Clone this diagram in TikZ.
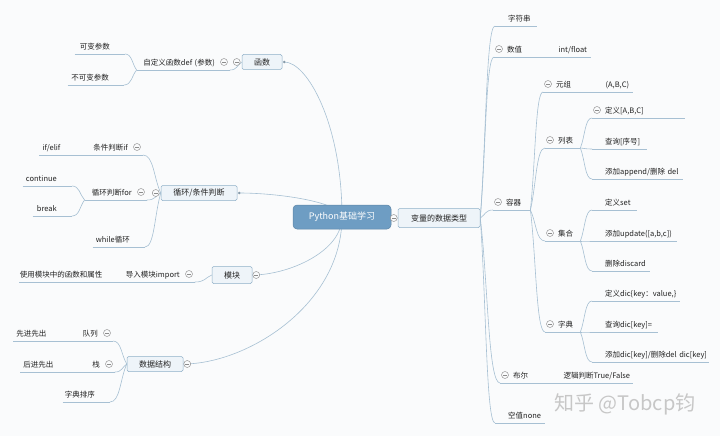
\documentclass[tikz,border=0pt]{standalone}
\usepackage{fontspec}
\setmainfont{Noto Sans CJK SC}
\usepackage{tikz}
\usetikzlibrary{calc,backgrounds}
\definecolor{mmbg}{HTML}{FAFBFC}
\definecolor{rootblue}{HTML}{6E9DC3}
\definecolor{boxfill}{HTML}{EEF4F9}
\definecolor{boxline}{HTML}{8FB0C8}
\definecolor{wire}{HTML}{A7C0D3}
\definecolor{ink}{HTML}{222222}
\definecolor{foldgray}{HTML}{8C8C8C}
\newcommand{\leaffont}{\fontsize{7.5}{9}\selectfont}
\newcommand{\boxfont}{\fontsize{8}{10}\selectfont}
\newcommand{\rootfont}{\fontsize{9}{11}\selectfont}
% branch curve: leaves along the parent line, lands flat on the child's underline
\newcommand{\lnk}[2]{\draw[wirel] (#1) .. controls ($(#1)!0.4!(#2)$) and ($(#1|-#2)!0.4!(#2)$) .. (#2);}
\newcommand{\rlnk}[2]{\draw[wirel] (#1) .. controls ($(#1)!0.6!(#1|-#2)$) and ($(#1|-#2)!0.6!(#2)$) .. (#2);}
\hyphenpenalty=10000
\tikzset{
  wirel/.style={draw=wire, line width=0.6pt},
  uline/.style={append after command={(\tikzlastnode.south west) edge[wirel] (\tikzlastnode.south east)}},
  rootbox/.style={fill=rootblue, draw=rootblue!85!black, line width=0.5pt, rounded corners=4pt,
                  minimum width=98pt, minimum height=24pt, text=white, font=\rootfont},
  topicbox/.style={fill=boxfill, draw=boxline, line width=0.5pt, rounded corners=1.5pt,
                   minimum height=15pt, inner xsep=4pt, text=ink, font=\boxfont},
  rleaf/.style={anchor=south west, text width=#1, align=left, inner xsep=0pt, inner ysep=2.5pt,
                text height=6pt, text depth=1.5pt, text=ink, font=\leaffont,
                execute at begin node={\noindent\kern13pt}, uline},
  lleaf/.style={anchor=south east, text width=#1, align=right, inner xsep=0pt, inner ysep=2.5pt,
                text height=6pt, text depth=1.5pt, text=ink, font=\leaffont,
                execute at end node={\kern15pt}, uline},
  fold/.style={circle, draw=foldgray, fill=mmbg, line width=0.45pt, minimum size=7pt, inner sep=0pt,
               path picture={\draw[foldgray, line width=0.45pt]
                 ([xshift=1.6pt]path picture bounding box.west) -- ([xshift=-1.6pt]path picture bounding box.east);}},
  knob/.style={circle, fill=wire!80!black, minimum size=2.6pt, inner sep=0pt},
  wmark/.style={text=black!22, font=\fontsize{20}{24}\selectfont}}
\begin{document}
\begin{tikzpicture}[x=1pt, y=-1pt]
  \useasboundingbox (0,0) rectangle (720,436);

  \node[rootbox] (py) at (342,217) {Python基础学习};

  % right side
  \node[topicbox, minimum width=82pt, minimum height=19pt] (dt) at (439,218) {变量的数据类型};
  \node[fold] (dt-f) at ([xshift=-4pt]dt.west) {};
  \node[rleaf=42pt] (str) at (495,26) {字符串};
  \node[rleaf=51pt] (num) at (494,57) {数值};
  \node[rleaf=45pt] (flt) at (num.south east) {int/float};
  \node[rleaf=37pt] (box) at (493,210) {容器};
  \node[rleaf=49pt] (tup) at (543,92) {元组};
  \node[rleaf=40pt] (abc) at (tup.south east) {(A,B,C)};
  \node[rleaf=35pt] (lst) at (545,148) {列表};
  \node[rleaf=93pt] (ldef) at (592,118) {定义[A,B,C]};
  \node[rleaf=55pt] (lqry) at (592,149) {查询[序号]};
  \node[rleaf=91pt] (ladd) at (592,179) {添加append/删除~del};
  \node[rleaf=35pt] (set) at (545,241) {集合};
  \node[rleaf=45pt] (sdef) at (592,210) {定义set};
  \node[rleaf=85pt] (supd) at (592,241) {添加update([a,b,c])};
  \node[rleaf=58pt] (sdel) at (592,271) {删除discard};
  \node[rleaf=35pt] (dic) at (545,332) {字典};
  \node[rleaf=88pt] (ddef) at (592,301) {定义dic\{key：value,\}};
  \node[rleaf=66pt] (dqry) at (592,332) {查询dic[key]=};
  \node[rleaf=117pt] (dadd) at (592,362) {添加dic[key]/删除del~dic[key]};
  \node[rleaf=50pt] (bool) at (500,383) {布尔};
  \node[rleaf=82pt] (logic) at (bool.south east) {逻辑判断True/False};
  \node[rleaf=50pt] (none) at (495,423) {空值none};
  \foreach \n in {num,box,tup,lst,set,dic,ldef,bool}
    \node[fold] (\n-f) at ([xshift=5pt,yshift=8pt]\n.south west) {};

  % left side
  \node[topicbox, minimum width=40pt] (fn) at (262,62) {函数};
  \node[fold] (fn-f) at ([xshift=-5pt]fn.west) {};
  \node[lleaf=93pt] (udf) at (230,70) {自定义函数def~(参数)};
  \node[lleaf=50pt] (var) at (125,54) {可变参数};
  \node[lleaf=56pt] (fix) at (124,85) {不可变参数};

  \node[topicbox, minimum width=76pt] (loop) at (199,193) {循环/条件判断};
  \node[fold] (loop-f) at ([xshift=-5pt]loop.west) {};
  \node[lleaf=67pt] (cond) at (143,155) {条件判断if};
  \node[lleaf=36pt] (elif) at (cond.south west) {if/elif};
  \node[lleaf=62pt] (forl) at (147,200) {循环判断for};
  \node[lleaf=49pt] (cont) at (72,186) {continue};
  \node[lleaf=39pt] (brk) at (72,216) {break};
  \node[lleaf=52pt] (whl) at (145,247) {while循环};

  \node[topicbox, minimum width=40pt, minimum height=17pt] (mod) at (232,275) {模块};
  \node[fold] (mod-f) at ([xshift=4pt]mod.east) {};
  \node[lleaf=77pt] (imp) at (195,282) {导入模块import};
  \node[lleaf=98pt] (use) at (imp.south west) {使用模块中的函数和属性};

  \node[topicbox, minimum width=56pt] (ds) at (155,364) {数据结构};
  \node[fold] (ds-f) at ([xshift=4pt]ds.east) {};
  \node[lleaf=51pt] (que) at (113,341) {队列};
  \node[lleaf=48pt] (fifo) at (que.south west) {先进先出};
  \node[lleaf=46pt] (stk) at (115,372) {栈};
  \node[lleaf=48pt] (lifo) at (stk.south west) {后进先出};
  \node[lleaf=47pt] (srt) at (110,402) {字典排序};
  \foreach \n in {udf,cond,forl,imp,que,stk}
    \node[fold] (\n-f) at ([xshift=-6pt,yshift=8pt]\n.south east) {};

  \node[knob] (fn-k) at ([xshift=2pt]fn.east) {};
  \node[knob] (loop-k) at ([xshift=2pt]loop.east) {};

  \node[wmark] (wm) at (625,404) {知乎 @Tobcp钧};

  \begin{pgfonlayer}{background}
    \fill[mmbg] (0,0) rectangle (720,436);
    \draw[wirel] (py.center) -- (dt.west);
    \rlnk{py.center}{fn-k.center}
    \rlnk{py.center}{loop-k.center}
    \rlnk{py.center}{mod.east}
    \rlnk{py.center}{ds.east}
    \foreach \c in {str,num,box,bool,none} {\lnk{dt.east}{\c.south west}}
    \foreach \c in {tup,lst,set,dic} {\lnk{box.south east}{\c.south west}}
    \foreach \c in {ldef,lqry,ladd} {\lnk{lst.south east}{\c.south west}}
    \foreach \c in {sdef,supd,sdel} {\lnk{set.south east}{\c.south west}}
    \foreach \c in {ddef,dqry,dadd} {\lnk{dic.south east}{\c.south west}}
    \lnk{fn.west}{udf.south east}
    \lnk{udf.south west}{var.south east}
    \lnk{udf.south west}{fix.south east}
    \foreach \c in {cond,forl,whl} {\lnk{loop.west}{\c.south east}}
    \lnk{forl.south west}{cont.south east}
    \lnk{forl.south west}{brk.south east}
    \lnk{mod.west}{imp.south east}
    \foreach \c in {que,stk,srt} {\lnk{ds.west}{\c.south east}}
  \end{pgfonlayer}
\end{tikzpicture}
\end{document}
